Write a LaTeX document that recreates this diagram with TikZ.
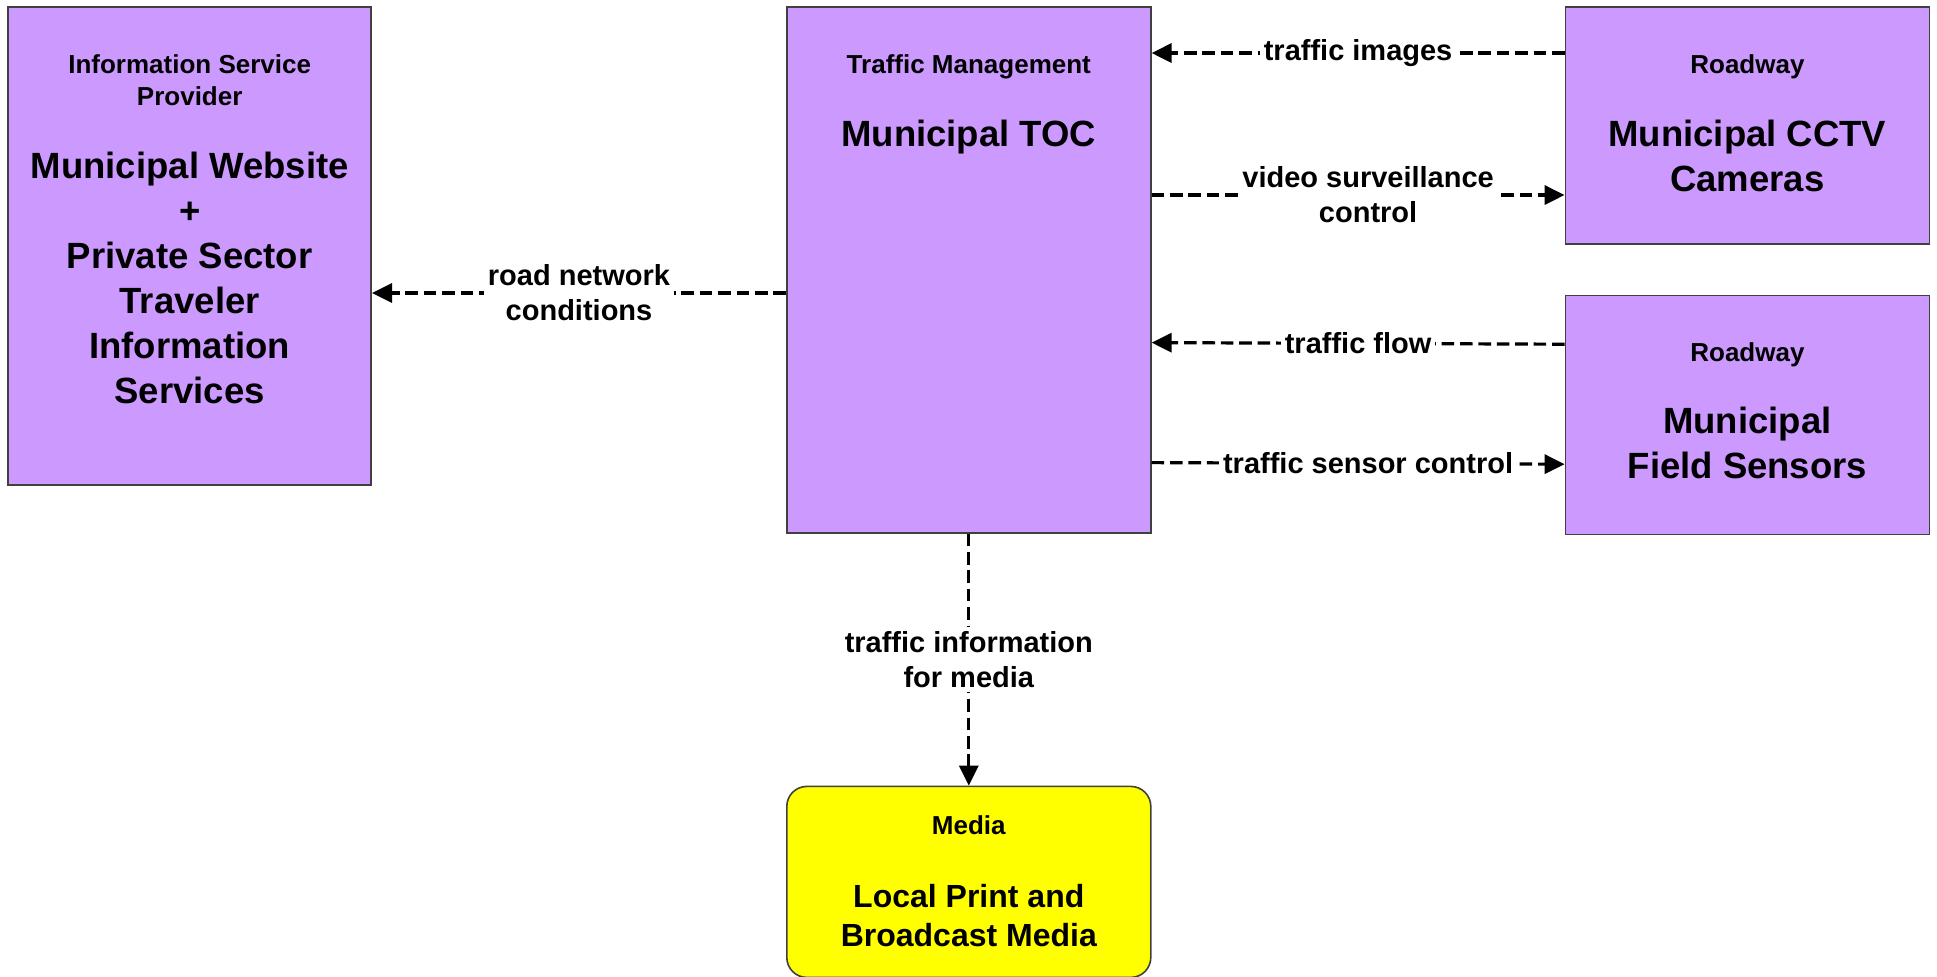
\documentclass[tikz,border=0pt]{standalone}
\usepackage{fontspec}
\setmainfont{Liberation Sans}
\usetikzlibrary{positioning,arrows.meta}

\definecolor{fialova}{HTML}{CC99FF}
\definecolor{zluta}{HTML}{FFFF00}

\begin{document}
\begin{tikzpicture}[x=0.5pt, y=-0.5pt,
  box/.style={draw=black!75, line width=0.8pt, fill=fialova, inner sep=0pt, minimum width=182pt},
  boxkind/.style={inner sep=0pt, align=center, font=\fontsize{13}{16}\selectfont\bfseries},
  boxname/.style={inner sep=0pt, align=center, font=\fontsize{18.25}{22.5}\selectfont\bfseries},
  flowline/.style={line width=1.6pt, dash pattern=on 6.3pt off 2.9pt, -{Triangle[length=10pt,width=9.5pt]}},
  toklabel/.style={fill=white, inner sep=2pt, align=center, font=\fontsize{14.5}{17.5}\selectfont\bfseries}]
			\useasboundingbox (0,0) rectangle (1937,976);
			
			% hlavni uzel
			\node[box, minimum height=263pt, anchor=north west] (toc) at (786,6) {};
			
			% okolni uzly
			\node[box, minimum width=181.5pt, minimum height=239pt, left=207pt of toc.north west, anchor=north east] (isp) {};
			\node[box, minimum height=118.5pt, right=206.5pt of toc.north east, anchor=north west] (cctv) {};
			\node[box, minimum height=119.5pt, below=25pt of cctv] (sensors) {};
			\node[box, fill=zluta, rounded corners=10pt, minimum height=95.5pt, below=126pt of toc] (media) {};
			
			% popisky uzlu
			\node[boxkind, below=24pt of isp.north] (ispKind) {Information Service\\Provider};
			\node[boxname, below=73pt of isp.north] (ispName) {Municipal Website\\+\\Private Sector\\Traveler\\Information\\Services};
			\node[boxkind, below=24pt of toc.north] (tocKind) {Traffic Management};
			\node[boxname, below=57pt of toc.north] (tocName) {Municipal TOC};
			\node[boxkind, below=24pt of cctv.north] (cctvKind) {Roadway};
			\node[boxname, below=57pt of cctv.north] (cctvName) {Municipal CCTV\\Cameras};
			\node[boxkind, below=24pt of sensors.north] (sensorsKind) {Roadway};
			\node[boxname, below=56pt of sensors.north] (sensorsName) {Municipal\\Field Sensors};
			\node[boxkind, below=15pt of media.north] (mediaKind) {Media};
			\node[boxname, font=\fontsize{16}{19.5}\selectfont\bfseries, below=49pt of media.north] (mediaName) {Local Print and\\Broadcast Media};
			
			% toky vpravo
			\draw[flowline] ([yshift=-23.5pt]cctv.north west) -- node[toklabel] {traffic images} ([yshift=-23.5pt]toc.north east);
			\draw[flowline] ([yshift=-94.5pt]toc.north east) -- node[toklabel, xshift=5pt] {video surveillance\\control} ([yshift=-94.5pt]cctv.north west);
			\draw[flowline] ([yshift=95.5pt]sensors.south west) -- node[toklabel] {traffic flow} ([yshift=95.5pt]toc.south east);
			\draw[flowline] ([yshift=35.5pt]toc.south east) -- node[toklabel, xshift=5pt] {traffic sensor control} ([yshift=35.5pt]sensors.south west);
			
			% toky vlevo a dolu
			\draw[flowline] ([yshift=-143.5pt]toc.north west) -- node[toklabel] {road network\\conditions} ([yshift=-143.5pt]isp.north east);
			\draw[flowline] (toc.south) -- node[toklabel] {traffic information\\for media} (media.north);
		\end{tikzpicture}
\end{document}
